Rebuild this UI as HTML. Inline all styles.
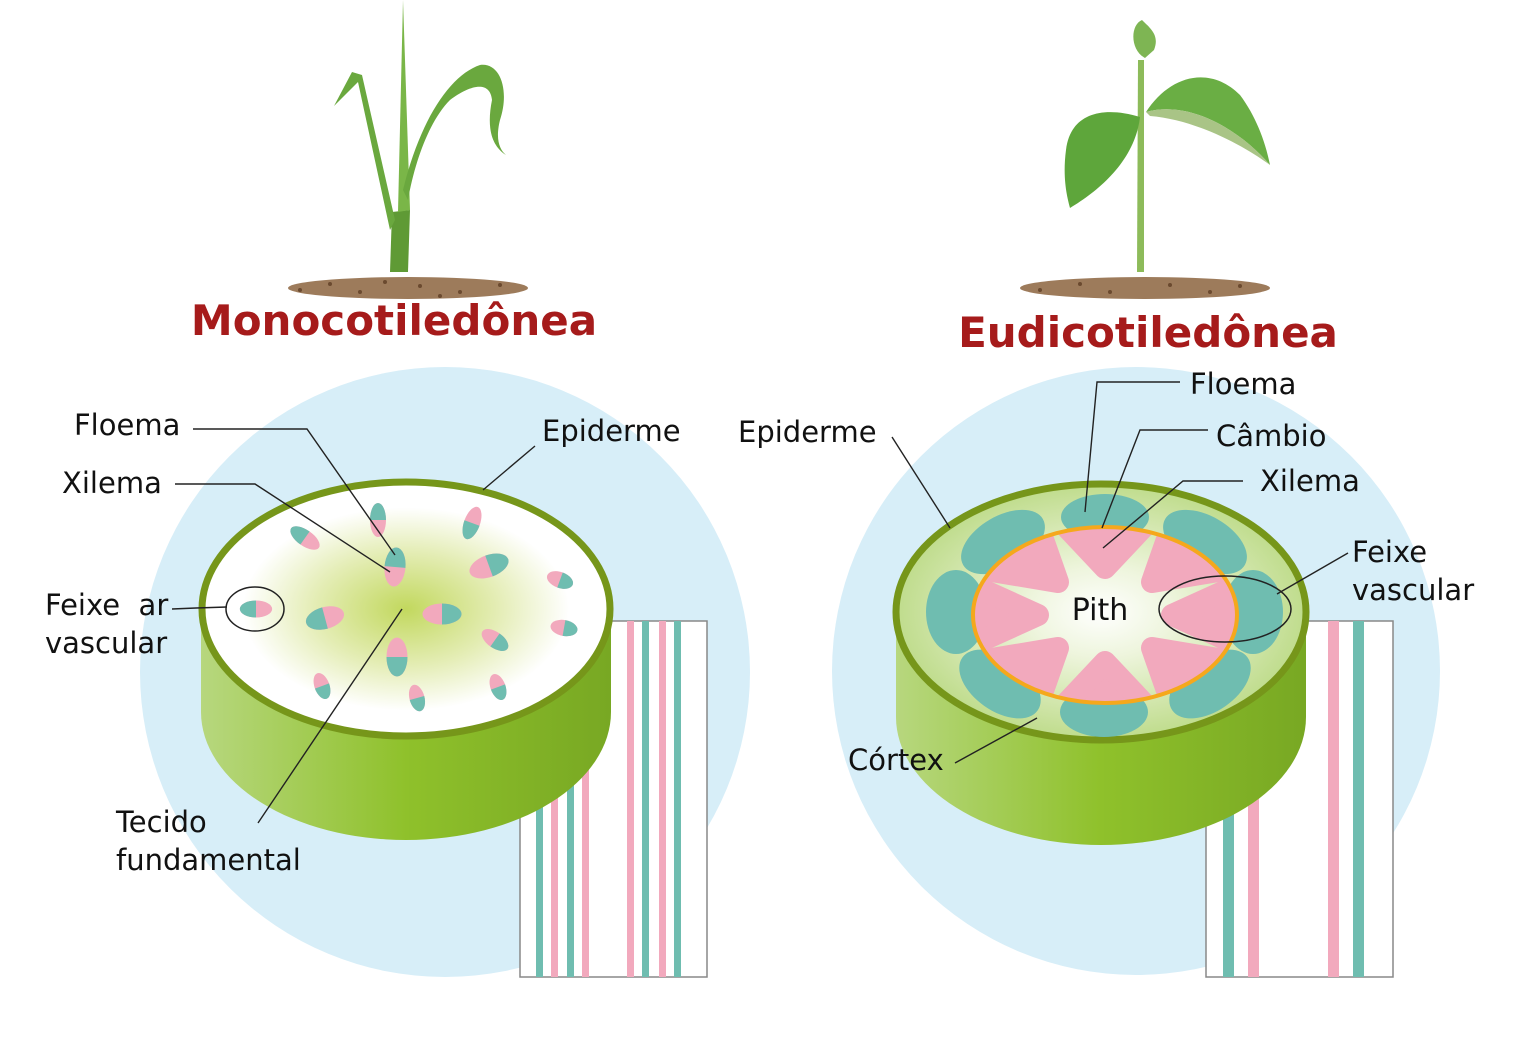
<!DOCTYPE html>
<html><head><meta charset="utf-8"><style>
html,body{margin:0;padding:0;background:#fff;}
svg{display:block;}
text{font-family:"DejaVu Sans","Liberation Sans",sans-serif;font-size:29px;fill:#111;}
.t{font-family:"DejaVu Sans","Liberation Sans",sans-serif;font-weight:bold;font-size:42px;fill:#a61b1b;}
.l{stroke:#222;stroke-width:1.4;fill:none;}
</style></head><body>
<svg width="1536" height="1064" viewBox="0 0 1536 1064" xmlns="http://www.w3.org/2000/svg">
<defs>
<linearGradient id="side" x1="0" x2="1" y1="0" y2="0">
<stop offset="0" stop-color="#b7d77e"/><stop offset="0.5" stop-color="#8fc12b"/><stop offset="1" stop-color="#78a823"/>
</linearGradient>
<radialGradient id="monoTop" cx="0.5" cy="0.5" r="0.5">
<stop offset="0" stop-color="#c2d85e"/><stop offset="0.45" stop-color="#e4edb5"/><stop offset="0.8" stop-color="#ffffff"/><stop offset="1" stop-color="#ffffff"/>
</radialGradient>
<radialGradient id="euTop" cx="0.5" cy="0.5" r="0.5">
<stop offset="0" stop-color="#ffffff"/><stop offset="0.35" stop-color="#eef5dd"/><stop offset="1" stop-color="#bfdc8c"/>
</radialGradient>
<clipPath id="orangeClip"><ellipse cx="1105" cy="615" rx="132" ry="88"/></clipPath>
<g id="vb"><ellipse cx="0" cy="0" rx="17" ry="10" fill="#f2a9bd"/><path d="M0,-10 A17,10 0 0,0 0,10 Z" fill="#6fbdb0"/></g>
</defs>

<circle cx="445" cy="672" r="305" fill="#d7eef8"/>
<circle cx="1136" cy="671" r="304" fill="#d7eef8"/>

<!-- MONOCOT PLANT -->
<ellipse cx="408" cy="288" rx="120" ry="11" fill="#9d7b5b"/>
<g fill="#6b4a2f"><circle cx="300" cy="290" r="2"/><circle cx="330" cy="284" r="2"/><circle cx="360" cy="292" r="2"/><circle cx="420" cy="286" r="2"/><circle cx="460" cy="292" r="2"/><circle cx="500" cy="285" r="2"/><circle cx="385" cy="282" r="2"/><circle cx="440" cy="296" r="2"/></g>
<path d="M392,212 L410,210 L408,272 L390,272 Z" fill="#5f9a35"/>
<path d="M398,212 L403,0 L410,210 Z" fill="#7ab648"/>
<path d="M395,220 L362,75 L352,72 L334,106 L358,82 L390,230 Z" fill="#6aa83e"/>
<path d="M403,190 C420,120 450,75 480,65 C500,62 510,90 500,120 C495,140 500,150 506,155 C490,145 487,125 492,100 C490,80 470,85 450,100 C430,120 415,160 408,200 Z" fill="#6aa83e"/>

<!-- EUDICOT PLANT -->
<ellipse cx="1145" cy="288" rx="125" ry="11" fill="#9d7b5b"/>
<g fill="#6b4a2f"><circle cx="1040" cy="290" r="2"/><circle cx="1080" cy="284" r="2"/><circle cx="1110" cy="292" r="2"/><circle cx="1170" cy="285" r="2"/><circle cx="1210" cy="292" r="2"/><circle cx="1240" cy="286" r="2"/></g>
<path d="M1138,60 L1144,60 L1144,272 L1137,272 Z" fill="#8dbb5a"/>
<path d="M1145,58 C1130,50 1130,25 1142,20 C1150,28 1160,35 1154,50 Z" fill="#7eb553"/>
<path d="M1140,117 C1100,105 1070,115 1066,150 C1062,180 1068,200 1070,208 C1100,190 1135,160 1140,117 Z" fill="#5ea63b"/>
<path d="M1146,112 C1170,75 1210,65 1240,95 C1255,115 1265,140 1270,165 C1240,130 1190,100 1146,112 Z" fill="#6aae44"/>
<path d="M1146,112 C1190,100 1240,130 1270,165 C1250,150 1200,120 1150,116 Z" fill="#a9c486"/>

<text x="394" y="335" text-anchor="middle" class="t">Monocotiledônea</text>
<text x="1148" y="347" text-anchor="middle" class="t">Eudicotiledônea</text>

<!-- LEFT STEM -->
<rect x="520" y="621" width="187" height="356" fill="#fff" stroke="#888" stroke-width="1.5"/>
<g fill="#6fbdb0"><rect x="536" y="621" width="7" height="356"/><rect x="567" y="621" width="7" height="356"/><rect x="642" y="621" width="7" height="356"/><rect x="674" y="621" width="7" height="356"/></g>
<g fill="#f2a9bd"><rect x="551" y="621" width="7" height="356"/><rect x="582" y="621" width="7" height="356"/><rect x="627" y="621" width="7" height="356"/><rect x="659" y="621" width="7" height="356"/></g>
<path d="M201,610 L201,712 A205,128 0 0,0 611,712 L611,610 Z" fill="url(#side)"/>
<ellipse cx="406" cy="609" rx="204" ry="127" fill="url(#monoTop)" stroke="#76961a" stroke-width="7"/>
<use href="#vb" transform="translate(378,520) rotate(90) scale(1,0.8)"/>
<use href="#vb" transform="translate(305,538) rotate(35) scale(1,0.8)"/>
<use href="#vb" transform="translate(472,523) rotate(-70) scale(1,0.8)"/>
<use href="#vb" transform="translate(395,567) rotate(95) scale(1.15,1.05)"/>
<use href="#vb" transform="translate(489,566) rotate(160) scale(1.2,1.1)"/>
<use href="#vb" transform="translate(560,580) rotate(-160) scale(0.8,0.8)"/>
<use href="#vb" transform="translate(256,609) scale(0.95,0.85)"/>
<use href="#vb" transform="translate(325,618) rotate(-15) scale(1.15,1.1)"/>
<use href="#vb" transform="translate(442,614) rotate(180) scale(1.15,1.05)"/>
<use href="#vb" transform="translate(564,628) rotate(-170) scale(0.8,0.8)"/>
<use href="#vb" transform="translate(495,640) rotate(-145) scale(0.9,0.8)"/>
<use href="#vb" transform="translate(397,657) rotate(-90) scale(1.15,1.05)"/>
<use href="#vb" transform="translate(322,686) rotate(-110) scale(0.8,0.75)"/>
<use href="#vb" transform="translate(417,698) rotate(-105) scale(0.8,0.75)"/>
<use href="#vb" transform="translate(498,687) rotate(-110) scale(0.8,0.75)"/>
<ellipse cx="255" cy="609" rx="29" ry="22" fill="none" stroke="#222" stroke-width="1.5"/>

<text x="74" y="435">Floema</text>
<path class="l" d="M193,429 L307,429 L395,555"/>
<text x="62" y="493">Xilema</text>
<path class="l" d="M175,484 L255,484 L390,572"/>
<text x="542" y="441">Epiderme</text>
<path class="l" d="M535,446 L483,490"/>
<text x="45" y="615">Feixe&#160; ar</text>
<text x="45" y="653">vascular</text>
<path class="l" d="M172,609 L196,608 L227,607"/>
<text x="116" y="832">Tecido</text>
<text x="116" y="870">fundamental</text>
<path class="l" d="M258,823 L402,609"/>

<!-- RIGHT STEM -->
<rect x="1206" y="621" width="187" height="356" fill="#fff" stroke="#888" stroke-width="1.5"/>
<rect x="1223" y="621" width="11" height="356" fill="#6fbdb0"/>
<rect x="1248" y="621" width="11" height="356" fill="#f2a9bd"/>
<rect x="1328" y="621" width="11" height="356" fill="#f2a9bd"/>
<rect x="1353" y="621" width="11" height="356" fill="#6fbdb0"/>
<path d="M896,612 L896,717 A205,128 0 0,0 1306,717 L1306,612 Z" fill="url(#side)"/>
<ellipse cx="1101" cy="612" rx="205" ry="128" fill="url(#euTop)" stroke="#76961a" stroke-width="7"/>
<g fill="#6fbdb0">
<ellipse cx="1253" cy="612" rx="42" ry="30" transform="rotate(90 1253 612)"/>
<ellipse cx="1210" cy="684" rx="46" ry="27" transform="rotate(-35 1210 684)"/>
<ellipse cx="1104" cy="712" rx="44" ry="25"/>
<ellipse cx="1000" cy="684" rx="46" ry="27" transform="rotate(35 1000 684)"/>
<ellipse cx="956" cy="612" rx="42" ry="30" transform="rotate(90 956 612)"/>
<ellipse cx="1003" cy="542" rx="46" ry="26" transform="rotate(-30 1003 542)"/>
<ellipse cx="1105" cy="517" rx="44" ry="23"/>
<ellipse cx="1205" cy="542" rx="46" ry="26" transform="rotate(30 1205 542)"/>
</g>
<g clip-path="url(#orangeClip)" fill="#f2a9bd" stroke="#f2a9bd" stroke-width="22" stroke-linejoin="round">
<polygon points="1172,615 1245,648 1245,582"/>
<polygon points="1152,648 1236,662 1172,705"/>
<polygon points="1105,662 1152,712 1058,712"/>
<polygon points="1058,648 1038,705 974,662"/>
<polygon points="1038,615 965,648 965,582"/>
<polygon points="1058,582 974,568 1038,525"/>
<polygon points="1105,568 1058,518 1152,518"/>
<polygon points="1152,582 1172,525 1236,568"/>
</g>
<ellipse cx="1105" cy="615" rx="132" ry="88" fill="none" stroke="#f5a81c" stroke-width="4"/>
<ellipse cx="1225" cy="609" rx="66" ry="33" fill="none" stroke="#222" stroke-width="1.5"/>
<text x="1100" y="620" text-anchor="middle" style="font-size:30px">Pith</text>

<text x="738" y="442">Epiderme</text>
<path class="l" d="M892,437 L950,528"/>
<text x="1190" y="394">Floema</text>
<path class="l" d="M1180,382 L1097,382 L1085,512"/>
<text x="1216" y="446">Câmbio</text>
<path class="l" d="M1208,430 L1140,430 L1102,528"/>
<text x="1260" y="491">Xilema</text>
<path class="l" d="M1243,481 L1183,481 L1103,548"/>
<text x="1352" y="562">Feixe</text>
<text x="1352" y="600">vascular</text>
<path class="l" d="M1348,553 L1277,594"/>
<text x="848" y="770">Córtex</text>
<path class="l" d="M955,763 L1037,718"/>
</svg>
</body></html>
